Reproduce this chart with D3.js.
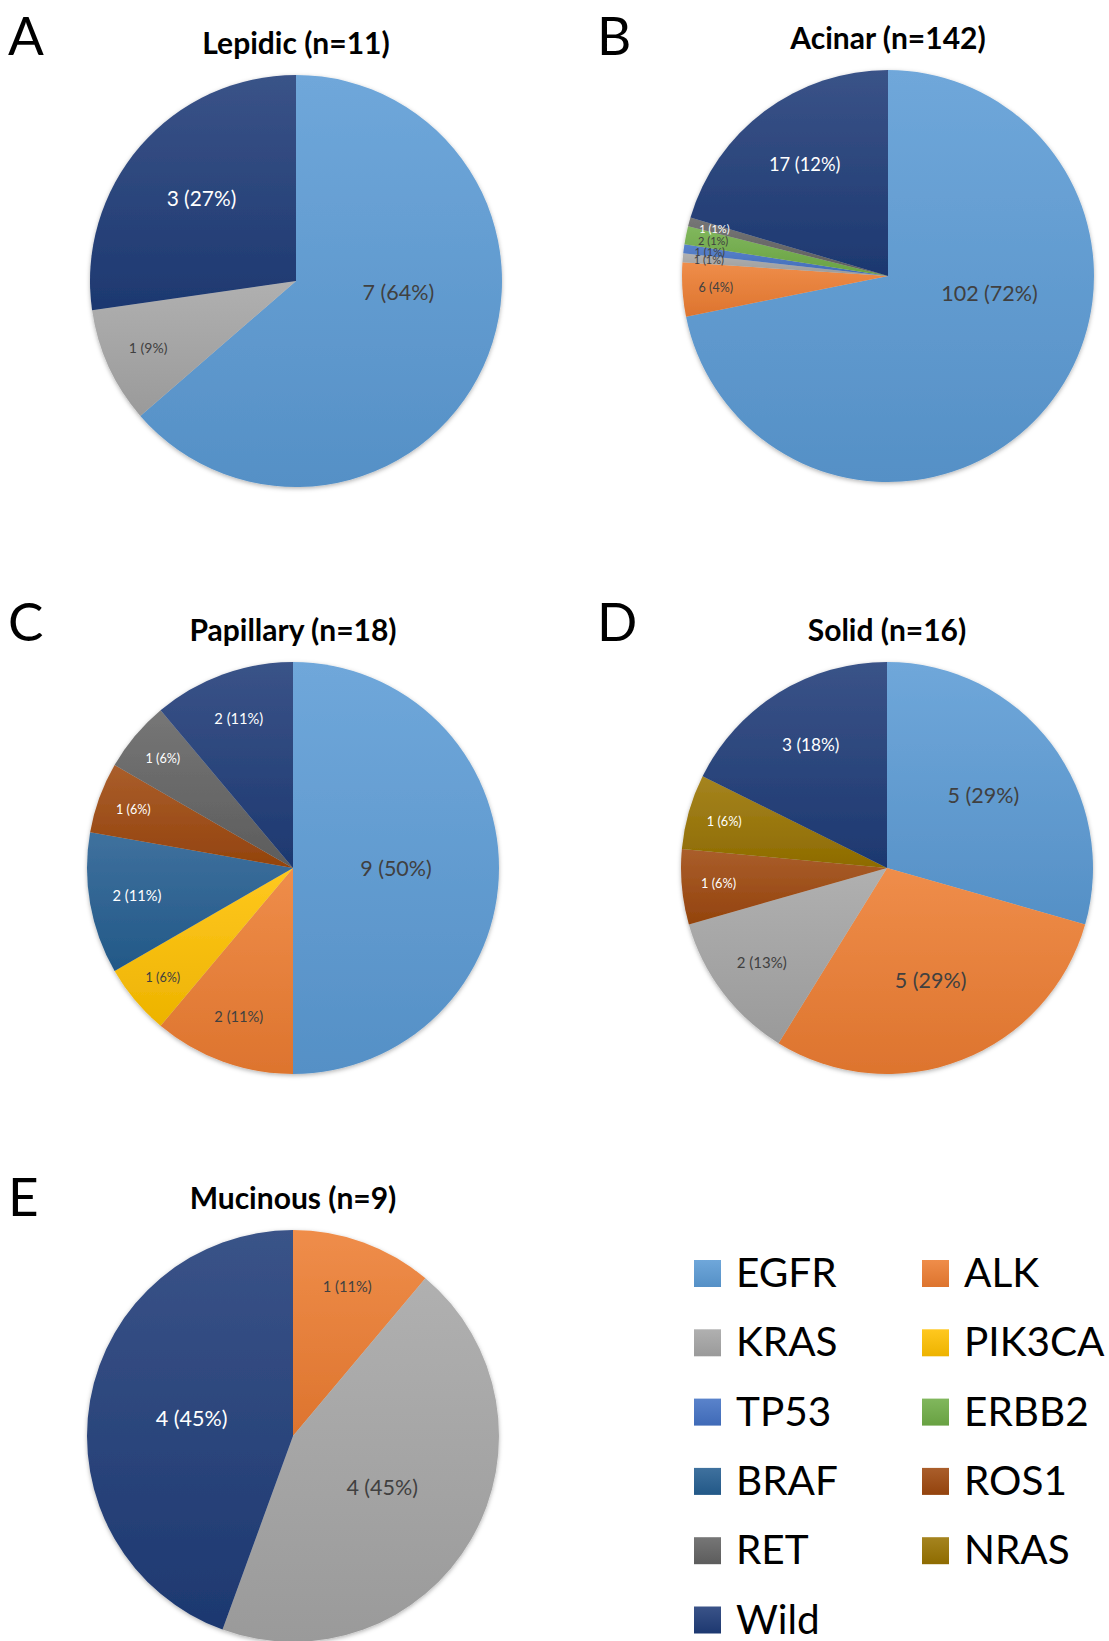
<!DOCTYPE html>
<html>
<head>
<meta charset="utf-8">
<script src="https://cdn.jsdelivr.net/npm/d3@7"></script>
<style>
  body { margin: 0; background: #fff; }
  text { font-family: Lato, "Open Sans", sans-serif; }
</style>
</head>
<body>
<script>
// genes in the order Excel draws them (clockwise from 12 o'clock)
var genes = ["EGFR", "ALK", "KRAS", "PIK3CA", "TP53", "ERBB2", "BRAF", "ROS1", "RET", "NRAS", "Wild"];
var geneColors = ["#5b9bd5", "#ed7d31", "#a5a5a5", "#ffc000", "#4472c4", "#70ad47",
                  "#255e91", "#9e480e", "#636363", "#997300", "#1f3c78"];
var darkGenes = ["BRAF", "ROS1", "RET", "NRAS", "Wild"];

var panelLetters = ["A", "B", "C", "D", "E"];
var panelTitles = ["Lepidic (n=11)", "Acinar (n=142)", "Papillary (n=18)", "Solid (n=16)", "Mucinous (n=9)"];
var panelN = [11, 142, 18, 16, 9];

// counts per gene (same order as genes)
var lepidicCounts   = [7, 0, 1, 0, 0, 0, 0, 0, 0, 0, 3];
var acinarCounts    = [102, 6, 1, 0, 1, 2, 0, 0, 1, 0, 17];
var papillaryCounts = [9, 2, 0, 1, 0, 0, 2, 1, 1, 0, 2];
var solidCounts     = [5, 5, 2, 0, 0, 0, 0, 1, 0, 1, 3];
var mucinousCounts  = [0, 1, 4, 0, 0, 0, 0, 0, 0, 0, 4];

// percentages as printed on the slices
var lepidicPct   = [64, 0, 9, 0, 0, 0, 0, 0, 0, 0, 27];
var acinarPct    = [72, 4, 1, 0, 1, 1, 0, 0, 1, 0, 12];
var papillaryPct = [50, 11, 0, 6, 0, 0, 11, 6, 6, 0, 11];
var solidPct     = [29, 29, 13, 0, 0, 0, 0, 6, 0, 6, 18];
var mucinousPct  = [0, 11, 45, 0, 0, 0, 0, 0, 0, 0, 45];

var allCounts = [lepidicCounts, acinarCounts, papillaryCounts, solidCounts, mucinousCounts];
var allPct = [lepidicPct, acinarPct, papillaryPct, solidPct, mucinousPct];

var W = 1109, H = 1641;

var svg = d3.select("body").append("svg")
  .attr("width", W)
  .attr("height", H);

var defs = svg.append("defs");

// soft shadow around each pie
var shadow = defs.append("filter").attr("id", "pieShadow")
  .attr("x", "-10%").attr("y", "-10%").attr("width", "120%").attr("height", "120%");
shadow.append("feDropShadow")
  .attr("dx", 0).attr("dy", 1.5)
  .attr("stdDeviation", 2)
  .attr("flood-color", "#000")
  .attr("flood-opacity", 0.3);

// Excel style vertical gradient, lighter at the top
var colorOf = d3.scaleOrdinal().domain(genes).range(geneColors);
genes.forEach(function(g) {
  var base = colorOf(g);
  var grad = defs.append("linearGradient")
    .attr("id", "grad-" + g)
    .attr("x1", 0).attr("y1", 0).attr("x2", 0).attr("y2", 1);
  grad.append("stop").attr("offset", "0%")
    .attr("stop-color", d3.interpolateRgb(base, "#ffffff")(0.12));
  grad.append("stop").attr("offset", "100%")
    .attr("stop-color", d3.color(base).darker(0.2));
});

// panel placement (pie centres) and letter baselines per row
var panelX = [296, 888, 293, 887, 293];
var panelY = [281, 276, 868, 868, 1436];
var letterY = [55, 641, 1216];
var radius = 206;

var pie = d3.pie().sort(null).value(function(d) { return d.v; });
var arc = d3.arc().innerRadius(0).outerRadius(radius);

function shareOf(d) { return (d.endAngle - d.startAngle) / (2 * Math.PI); }

panelTitles.forEach(function(title, i) {
  var col = i % 2, row = Math.floor(i / 2);
  var cx = panelX[i], cy = panelY[i];
  var counts = allCounts[i], pct = allPct[i];

  var slices = genes.map(function(g, k) {
    return { gene: g, count: counts[k], pct: pct[k], v: counts[k] };
  });
  // when the counts fall short of n (Acinar), the Wild slice takes the rest of the circle
  var total = d3.sum(counts);
  if (total < panelN[i]) slices[slices.length - 1].v += panelN[i] - total;
  slices = slices.filter(function(d) { return d.v > 0; });

  var g = svg.append("g").attr("transform", "translate(" + cx + "," + cy + ")");

  var arcs = pie(slices);

  g.append("g").attr("filter", "url(#pieShadow)")
    .selectAll("path")
    .data(arcs)
    .enter().append("path")
    .attr("d", arc)
    .attr("fill", function(d) { return "url(#grad-" + d.data.gene + ")"; });

  g.selectAll("text.lbl")
    .data(arcs)
    .enter().append("text")
    .attr("class", "lbl")
    .attr("text-anchor", "middle")
    .attr("dy", "0.35em")
    .attr("fill", function(d) { return darkGenes.indexOf(d.data.gene) >= 0 ? "#ffffff" : "#404040"; })
    .style("font-size", function(d) {
      var s = shareOf(d);
      var fs = s < 0.02 ? 11 : Math.max(12.5, Math.min(21.5, 10.5 + 38 * s));
      return fs.toFixed(1) + "px";
    })
    .attr("transform", function(d) {
      var share = shareOf(d);
      var a = (d.startAngle + d.endAngle) / 2;
      if (share >= 0.5) {
        // big slices: Excel pulls the label towards the horizontal
        var h = a < Math.PI ? Math.PI / 2 : 3 * Math.PI / 2;
        a = h + (a - h) * 0.25;
      }
      var rr = radius * Math.max(0.5, 0.88 - share);
      return "translate(" + (rr * Math.sin(a)) + "," + (-rr * Math.cos(a)) + ")";
    })
    .text(function(d) { return d.data.count + " (" + d.data.pct + "%)"; });

  // title
  svg.append("text")
    .attr("x", cx)
    .attr("y", cy - radius - 21)
    .attr("text-anchor", "middle")
    .style("font-size", "30px")
    .style("font-weight", "bold")
    .attr("fill", "#000")
    .text(title);

  // panel letter
  svg.append("text")
    .attr("x", col === 0 ? 8 : 597)
    .attr("y", letterY[row])
    .style("font-size", "53px")
    .attr("fill", "#000")
    .text(panelLetters[i]);
});

// legend, two columns: EGFR/ALK, KRAS/PIK3CA, ... and Wild alone on the last row
var legendRow = d3.scaleLinear().domain([0, 1]).range([1273, 1342.3]);
var legendCol = d3.scalePoint().domain([0, 1]).range([694, 922]);

var items = genes.map(function(g, k) {
  return { gene: g, row: Math.floor(k / 2), col: k % 2 };
});

var item = svg.append("g").selectAll("g")
  .data(items)
  .enter().append("g")
  .attr("transform", function(d) {
    return "translate(" + legendCol(d.col) + "," + legendRow(d.row) + ")";
  });

item.append("rect")
  .attr("x", 0).attr("y", -13)
  .attr("width", 27).attr("height", 27)
  .attr("fill", function(d) { return "url(#grad-" + d.gene + ")"; });

item.append("text")
  .attr("x", 42)
  .attr("y", 14)
  .style("font-size", "40.5px")
  .attr("fill", "#000")
  .text(function(d) { return d.gene; });
</script>
</body>
</html>
